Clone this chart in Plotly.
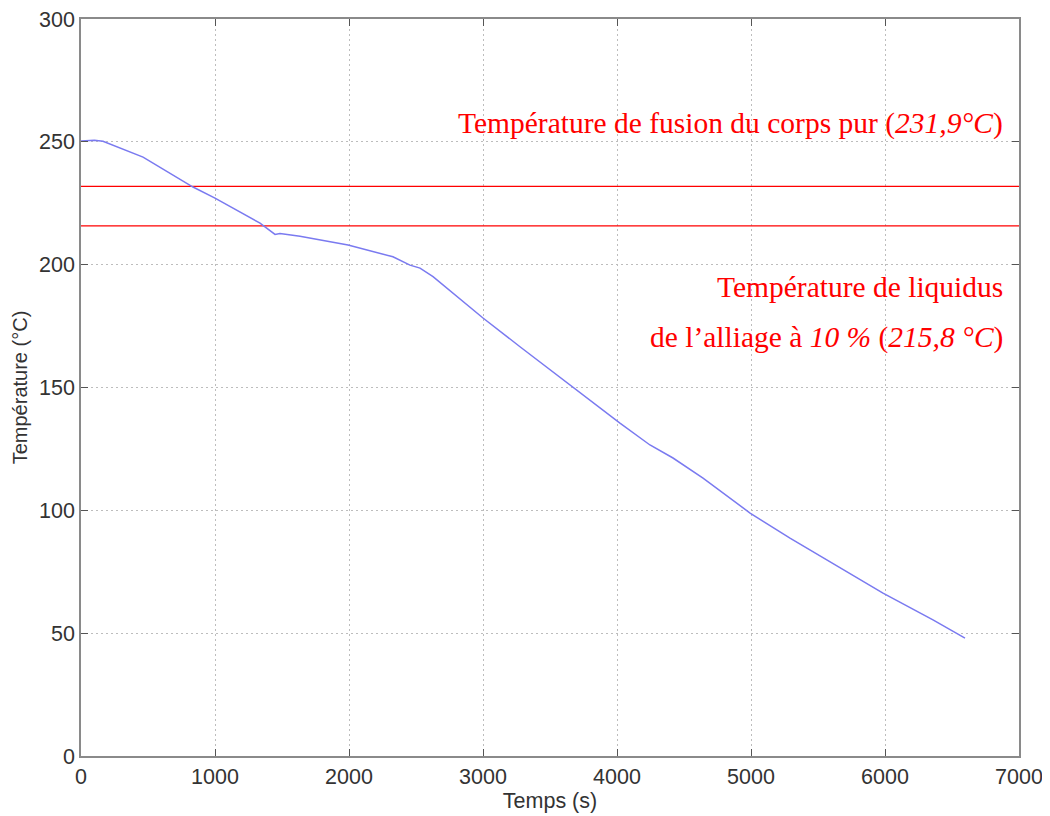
import plotly.graph_objects as go

# Cooling curve
temps_s = [0, 100, 164, 463, 836, 1000, 1336, 1448, 1485, 1634, 1993, 2328, 2455, 2530,
           2627, 2776, 3000, 3276, 3552, 3701, 4022, 4246, 4418, 4642, 4993,
           5291, 5612, 5985, 6358, 6597]
temperature = [250.3, 250.6, 250.2, 243.8, 231.6, 227.1, 216.9, 212.3, 212.7, 211.6, 208.0,
               203.2, 199.8, 198.6, 195.1, 188.4, 178.3, 166.6, 155.0, 149.0, 135.5,
               126.6, 121.3, 113.1, 98.9, 88.7, 78.5, 66.3, 55.4, 48.0]

t_fusion = 231.9
t_liquidus = 215.8
x_range = [0, 7000]
y_range = [0, 300]

fig = go.Figure()

# reference temperatures
for level in [t_fusion, t_liquidus]:
    fig.add_trace(go.Scatter(x=x_range, y=[level, level], mode='lines',
                             line=dict(color='#ff0000', width=1.2),
                             hoverinfo='skip', showlegend=False))

fig.add_trace(go.Scatter(x=temps_s, y=temperature, mode='lines',
                         line=dict(color='#7a7af0', width=1.5),
                         showlegend=False))

red = dict(family='Liberation Serif', size=29.5, color='#ff0000')
fig.add_annotation(text='Température de fusion du corps pur (<i>231,9°C</i>)',
                   xref='paper', x=0.985, y=257.3, xanchor='right', yanchor='middle',
                   showarrow=False, font=red)
fig.add_annotation(text='Température de liquidus',
                   xref='paper', x=0.985, y=191.0, xanchor='right', yanchor='middle',
                   showarrow=False, font=red)
fig.add_annotation(text='de l’alliage à <i>10 %</i> (<i>215,8 °C</i>)',
                   xref='paper', x=0.985, y=170.2, xanchor='right', yanchor='middle',
                   showarrow=False, font=red)

axis_style = dict(showline=True, linecolor='#8a8a8a', linewidth=1.5, mirror='ticks',
                  ticks='inside', ticklen=7, tickcolor='#555555', automargin=False,
                  ticklabeloverflow='allow',
                  showgrid=True, gridcolor='#bdbdbd', griddash='2px,3px', gridwidth=1,
                  zeroline=False,
                  tickfont=dict(family='Liberation Sans', size=21.5, color='#333333'))

fig.update_xaxes(range=x_range, dtick=1000, title_text='Temps (s)',
                 title_font=dict(family='Liberation Sans', size=21.5, color='#333333'),
                 title_standoff=2, **axis_style)
fig.update_yaxes(range=y_range, dtick=50, title_text='Température (°C)',
                 title_font=dict(family='Liberation Sans', size=20, color='#333333'),
                 title_standoff=6, **axis_style)

# page body adds an 8px margin, so the figure is a bit smaller than the window
fig.update_layout(width=1042, height=808, plot_bgcolor='white', paper_bgcolor='white',
                  margin=dict(l=73, r=31, t=11, b=60))

fig.write_html('out.html')
